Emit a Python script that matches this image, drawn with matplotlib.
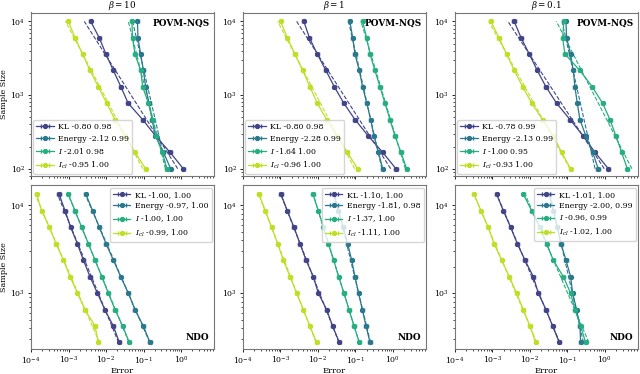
import matplotlib
matplotlib.use("Agg")
import matplotlib.pyplot as plt
import numpy as np

plt.rcParams["font.family"] = "DejaVu Serif"
plt.rcParams["mathtext.fontset"] = "dejavuserif"

# sample sizes (top row: POVM-NQS, bottom row: NDO)
n_nqs = [100, 167, 278, 464, 774, 1292, 2154, 3594, 5995, 10000]
n_ndo = [275, 423, 650, 1000, 1540, 2370, 3650, 5610, 8640, 13300]

betas = ["10", "1", "0.1"]

# errors, one list per observable (KL, Energy, I, I_cl), ascending sample size
nqs_b10 = [
    [1.15, 0.51, 0.21, 0.095, 0.039, 0.025, 0.0157, 0.0100, 0.0066, 0.0039],
    [0.53, 0.34, 0.207, 0.169, 0.140, 0.114, 0.099, 0.084, 0.071, 0.069],
    [0.415, 0.318, 0.215, 0.175, 0.135, 0.095, 0.084, 0.059, 0.051, 0.049],
    [0.114, 0.059, 0.032, 0.0174, 0.0104, 0.00625, 0.00374, 0.00239, 0.00149, 0.00099],
]
nqs_b1 = [
    [1.20, 0.53, 0.22, 0.097, 0.049, 0.0273, 0.0163, 0.0096, 0.0059, 0.0042],
    [0.53, 0.41, 0.31, 0.254, 0.200, 0.155, 0.126, 0.097, 0.084, 0.071],
    [2.31, 1.63, 1.13, 0.83, 0.61, 0.45, 0.33, 0.244, 0.198, 0.155],
    [0.114, 0.0605, 0.0328, 0.0170, 0.0096, 0.0061, 0.0039, 0.00244, 0.00152, 0.00101],
]
nqs_b01 = [
    [1.23, 0.54, 0.264, 0.117, 0.0514, 0.0267, 0.0157, 0.0096, 0.0058, 0.0038],
    [0.66, 0.47, 0.31, 0.215, 0.183, 0.158, 0.143, 0.121, 0.095, 0.091],
    [3.94, 2.78, 1.96, 1.36, 0.867, 0.459, 0.215, 0.0857, 0.0743, 0.0807],
    [0.121, 0.0698, 0.0419, 0.0218, 0.0111, 0.0064, 0.00382, 0.00239, 0.00149, 0.00091],
]
ndo_b10 = [
    [0.0227, 0.0157, 0.0093, 0.0059, 0.00374, 0.00249, 0.00172, 0.00114, 0.00081, 0.00056],
    [0.149, 0.099, 0.059, 0.0394, 0.0246, 0.0157, 0.0100, 0.0066, 0.0044, 0.0029],
    [0.0419, 0.0278, 0.0174, 0.0115, 0.0077, 0.0051, 0.00338, 0.00224, 0.00149, 0.00099],
    [0.00625, 0.0051, 0.00275, 0.00173, 0.0011, 0.00073, 0.000465, 0.000308, 0.000192, 0.000142],
]
ndo_b1 = [
    [0.0371, 0.0246, 0.0170, 0.0102, 0.0075, 0.0048, 0.0033, 0.00229, 0.00152, 0.00103],
    [0.244, 0.191, 0.152, 0.121, 0.097, 0.079, 0.0618, 0.0474, 0.0348, 0.0256],
    [0.1265, 0.0912, 0.0672, 0.0493, 0.0356, 0.0262, 0.0189, 0.0139, 0.0102, 0.00736],
    [0.0092, 0.0061, 0.00406, 0.0027, 0.00179, 0.00119, 0.00084, 0.00058, 0.000394, 0.000267],
]
ndo_b01 = [
    [0.0605, 0.0402, 0.0267, 0.0167, 0.0123, 0.00736, 0.00459, 0.00305, 0.00195, 0.00129],
    [0.2244, 0.2153, 0.1754, 0.1374, 0.1213, 0.0912, 0.0671, 0.0536, 0.0419, 0.0328],
    [0.305, 0.2244, 0.1585, 0.1213, 0.0775, 0.0419, 0.0278, 0.0185, 0.0111, 0.00664],
    [0.01416, 0.0100, 0.00664, 0.00441, 0.00281, 0.00175, 0.0011, 0.000774, 0.000493, 0.000321],
]

# fit numbers as printed in the legends
fit_nqs = [
    ["-0.80 0.98", "-2.12 0.99", "-2.01 0.98", "-0.95 1.00"],
    ["-0.80 0.98", "-2.28 0.99", "-1.64 1.00", "-0.96 1.00"],
    ["-0.78 0.99", "-2.13 0.99", "-1.00 0.95", "-0.93 1.00"],
]
fit_ndo = [
    ["-1.00, 1.00", "-0.97, 1.00", "-1.00, 1.00", "-0.99, 1.00"],
    ["-1.10, 1.00", "-1.81, 0.98", "-1.37, 1.00", "-1.11, 1.00"],
    ["-1.01, 1.00", "-2.00, 0.99", "-0.96, 0.99", "-1.02, 1.00"],
]

label_names = ["KL", "Energy", "$I$", "$I_{cl}$"]
colors = plt.cm.viridis([0.2, 0.4, 0.62, 0.9])


def draw_panel(ax, sizes, errs, fits, legend_loc):
    sizes = np.asarray(sizes, dtype=float)
    for name, err, fit, color in zip(label_names, errs, fits, colors):
        err = np.asarray(err)
        ax.errorbar(err, sizes, xerr=0.1 * err, color=color, marker="o", ms=2.8,
                    lw=0.9, elinewidth=0.7, capsize=1.5, label=f"{name} {fit}")
        # dashed power-law fit of log N against log error
        slope, icpt = np.polyfit(np.log10(err), np.log10(sizes), 1)
        x_fit = 10 ** ((np.log10(sizes) - icpt) / slope)
        ax.plot(x_fit, sizes, ls="--", lw=0.8, color=color)
    ax.legend(loc=legend_loc, fontsize=5.6, handlelength=2.2, borderpad=0.4,
              labelspacing=0.45, handletextpad=0.6, borderaxespad=0.3)


fig, axes = plt.subplots(2, 3, figsize=(6.4, 3.74), dpi=100, sharex=True)
fig.subplots_adjust(left=31 / 640, right=638 / 640, top=1 - 12.5 / 374,
                    bottom=1 - 349 / 374, wspace=0.158, hspace=0.055)

top_data = [nqs_b10, nqs_b1, nqs_b01]
bot_data = [ndo_b10, ndo_b1, ndo_b01]

for col in range(3):
    ax_t = axes[0, col]
    ax_b = axes[1, col]
    draw_panel(ax_t, n_nqs, top_data[col], fit_nqs[col], "lower left")
    draw_panel(ax_b, n_ndo, bot_data[col], fit_ndo[col], "upper right")
    ax_t.set_title(rf"$\beta = {betas[col]}$", fontsize=6.3, pad=0.3)
    ax_t.text(0.975, 0.96, "POVM-NQS", transform=ax_t.transAxes, ha="right",
              va="top", fontsize=6.4, fontweight="bold")
    ax_b.text(0.975, 0.04, "NDO", transform=ax_b.transAxes, ha="right",
              va="bottom", fontsize=6.4, fontweight="bold")
    ax_b.set_xlabel("Error", fontsize=6, labelpad=0.5)
    for ax in (ax_t, ax_b):
        ax.set_xscale("log")
        ax.set_yscale("log")
        ax.tick_params(labelsize=5.6, pad=1.5, length=2.5, width=0.6)
        ax.tick_params(which="minor", length=1.5, width=0.5)
        for spine in ax.spines.values():
            spine.set_color("#777777")
    ax_t.set_ylim(79, 13200)
    ax_b.set_ylim(232, 16800)

axes[0, 0].set_xlim(1e-4, 7.6)
axes[0, 0].set_ylabel("Sample Size", fontsize=5.8, labelpad=1.5)
axes[1, 0].set_ylabel("Sample Size", fontsize=5.8, labelpad=1.5)

fig.savefig("out.png", dpi=100)
